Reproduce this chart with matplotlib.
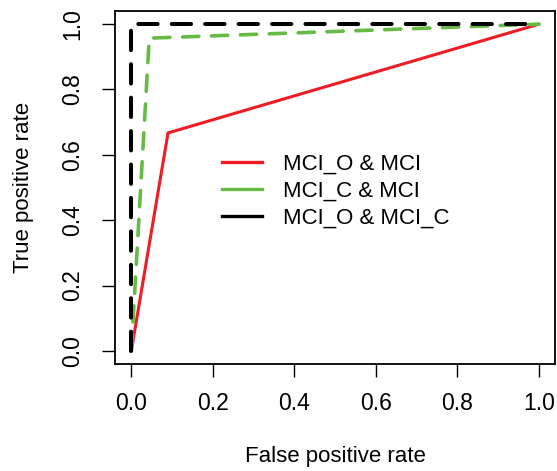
import matplotlib
matplotlib.use("Agg")
import matplotlib.pyplot as plt

# ROC curves (false positive rate, true positive rate)
fpr_o_mci = [0.0, 0.09, 1.0]
tpr_o_mci = [0.0, 0.667, 1.0]
fpr_c_mci = [0.0, 0.044, 1.0]
tpr_c_mci = [0.0, 0.957, 1.0]
fpr_o_c = [0.0, 0.0, 1.0]
tpr_o_c = [0.0, 1.0, 1.0]
labels = ["MCI_O & MCI", "MCI_C & MCI", "MCI_O & MCI_C"]
ticks = [0.0, 0.2, 0.4, 0.6, 0.8, 1.0]

plt.rcParams['font.family'] = ['Liberation Sans', 'DejaVu Sans']

fig = plt.figure(figsize=(5.57, 4.71), dpi=100)
ax = fig.add_axes([0.2065, 0.2272, 0.7905, 0.7494])

ax.plot(fpr_o_mci, tpr_o_mci, color="#ee1c25", lw=2.2, solid_capstyle="round")
ax.plot(fpr_c_mci, tpr_c_mci, color="#66bb44", lw=2.6, dashes=(4.5, 3.5),
        dash_capstyle="round")
ax.plot(fpr_o_c, tpr_o_c, color="black", lw=2.9, dashes=(4.8, 3.5),
        dash_capstyle="round")

ax.set_xlim(-0.04, 1.04)
ax.set_ylim(-0.04, 1.04)
ax.set_xticks(ticks)
ax.set_yticks(ticks)
ax.set_xticklabels([f"{t:.1f}" for t in ticks], fontsize=16.5)
ax.set_yticklabels([f"{t:.1f}" for t in ticks], fontsize=16.5, rotation=90, va="center")
ax.tick_params(axis="x", length=9.4, width=1, pad=10.5)
ax.tick_params(axis="y", length=9.4, width=1, pad=13)
for s in ax.spines.values():
    s.set_linewidth(1.3)

ax.set_xlabel("False positive rate", fontsize=16, va="center")
ax.set_ylabel("True positive rate", fontsize=16, va="center")
ax.xaxis.set_label_coords(0.5, -0.263)
ax.yaxis.set_label_coords(-0.207, 0.5)

# legend with solid lines like the original
handles = [plt.Line2D([], [], color=c, lw=2.4) for c in ["#ee1c25", "#66bb44", "black"]]
ax.legend(handles, labels, loc="center left", bbox_to_anchor=(0.243, 0.49), frameon=False,
          fontsize=16, handlelength=1.8, handletextpad=0.95, labelspacing=0.26,
          borderaxespad=0, borderpad=0)

fig.savefig("out.png", dpi=100)
